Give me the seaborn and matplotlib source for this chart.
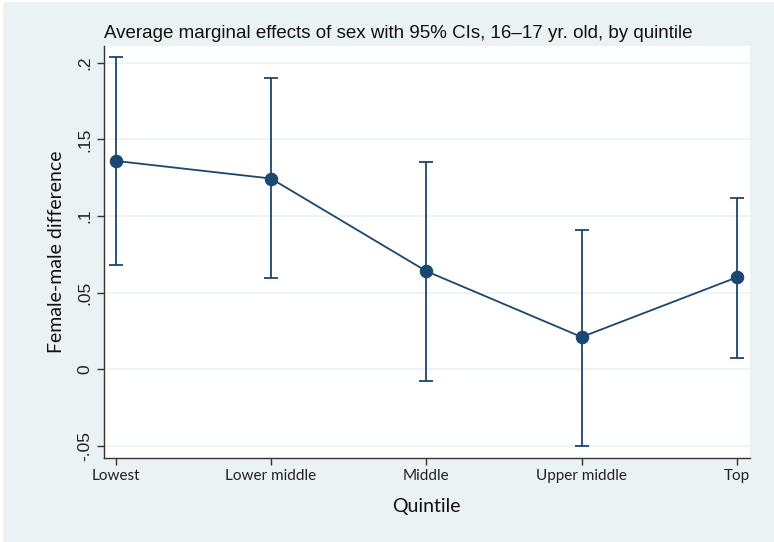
import matplotlib
matplotlib.use("Agg")
import matplotlib.pyplot as plt
from matplotlib.patches import Rectangle
import seaborn as sns
import pandas as pd
import numpy as np

quintiles = ["Lowest", "Lower middle", "Middle", "Upper middle", "Top"]
effect = [0.136, 0.1245, 0.064, 0.021, 0.060]
ci_low = [0.068, 0.0595, -0.008, -0.050, 0.007]
ci_high = [0.204, 0.190, 0.135, 0.091, 0.112]
yticks = [-0.05, 0, 0.05, 0.1, 0.15, 0.2]
ytick_labels = ["-.05", "0", ".05", ".1", ".15", ".2"]

navy = "#1a476f"
bg = "#eaf2f3"

sns.set_theme(style="white")
plt.rcParams["font.family"] = ["Liberation Sans", "DejaVu Sans"]

df = pd.DataFrame({"pos": np.arange(len(quintiles)), "quintile": quintiles,
                   "effect": effect, "lo": ci_low, "hi": ci_high})

fig = plt.figure(figsize=(7.74, 5.42), dpi=100, facecolor="white")
fig.patches.append(Rectangle((3 / 774, 0), 1 - 3 / 774, 1 - 2 / 542,
                             transform=fig.transFigure, facecolor=bg,
                             edgecolor="none", zorder=-10))
ax = fig.add_axes([0.134, 0.155, 0.835, 0.760])
ax.set_facecolor("white")

for y in yticks:
    ax.axhline(y, color=bg, lw=1.2, zorder=0)

ax.errorbar(df["pos"], df["effect"],
            yerr=[df["effect"] - df["lo"], df["hi"] - df["effect"]],
            fmt="none", ecolor=navy, elinewidth=1.3, capsize=5, capthick=1.3, zorder=2)
sns.lineplot(data=df, x="pos", y="effect", color=navy, lw=1.3, marker="o",
             markersize=9, markeredgecolor=navy, ax=ax, zorder=3)

ax.set_xlim(-0.077, 4.084)
ax.set_ylim(-0.058, 0.211)
ax.set_xticks(df["pos"])
ax.set_xticklabels(quintiles, fontsize=11, family=["Lato", "DejaVu Sans"], color="#222222")
ax.set_yticks(yticks)
ax.set_yticklabels(ytick_labels, fontsize=12.5, rotation=90, va="center", color="#222222")

ax.tick_params(axis="both", direction="out", length=5, width=1, color="#333333",
               bottom=True, left=True)
ax.tick_params(axis="x", pad=3)
ax.tick_params(axis="y", pad=3)

for s in ["top", "right"]:
    ax.spines[s].set_visible(False)
for s in ["left", "bottom"]:
    ax.spines[s].set_color("#333333")
    ax.spines[s].set_linewidth(1.0)

ax.set_xlabel("Quintile", fontsize=14, family=["Lato", "DejaVu Sans"], labelpad=11, color="#111111")
ax.set_ylabel("Female-male difference", fontsize=14, family=["Lato", "DejaVu Sans"], labelpad=9, color="#111111")
ax.set_title("Average marginal effects of sex with 95% CIs, 16\u201317 yr. old, by quintile",
             fontsize=13.5, color="#111111", loc="left", x=0.0, pad=6)

fig.savefig("out.png", dpi=100, facecolor="white")
